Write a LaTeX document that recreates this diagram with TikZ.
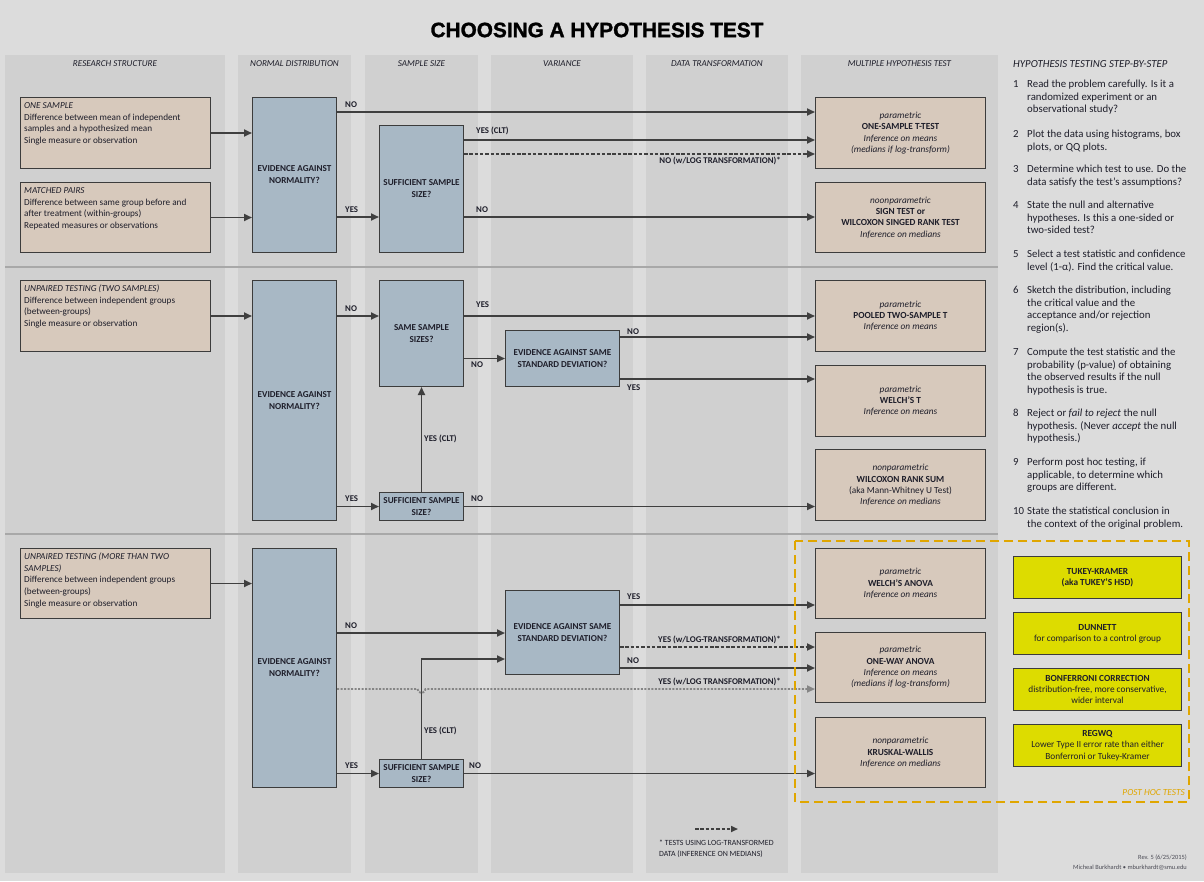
\documentclass[tikz,border=0pt]{standalone}
\usepackage{fontspec}
\setmainfont{Carlito}
\newfontfamily\titlefont[BoldFeatures={FakeBold=1.4}]{Liberation Sans}
\usetikzlibrary{arrows.meta,calc}
\newcommand\fsz[2]{\fontsize{#1}{#2}\selectfont}
\definecolor{bgc}{HTML}{DCDCDC}
\definecolor{panelc}{HTML}{D0D0D0}
\definecolor{sepc}{HTML}{A8A8A8}
\definecolor{tanc}{HTML}{D7C9BC}
\definecolor{bluec}{HTML}{A8B8C5}
\definecolor{yelc}{HTML}{DDDC00}
\definecolor{bordc}{HTML}{3C3C3C}
\definecolor{arrc}{HTML}{3F3F3F}
\definecolor{dotc}{HTML}{858585}
\definecolor{orgc}{HTML}{E0A600}
\definecolor{txtc}{HTML}{1E1E2A}
\begin{document}
\begin{tikzpicture}[x=1pt,y=-1pt,
  panel/.style={fill=panelc},
  tanbox/.style={draw=bordc, fill=tanc, line width=1pt, inner sep=0pt},
  bluebox/.style={draw=bordc, fill=bluec, line width=1pt, inner sep=0pt, align=center, text=txtc, font=\bfseries\fsz{9.1}{12}},
  resbox/.style={draw=bordc, fill=tanc, line width=1pt, inner sep=0pt, align=center, text=txtc, font=\fsz{9.3}{11.3}},
  ybox/.style={draw=bordc, fill=yelc, line width=1pt, inner sep=0pt, align=center, text=txtc, font=\fsz{9.3}{11.3}},
  boxtext/.style={align=left, text=txtc, font=\fsz{9.2}{11.7}, inner sep=0pt, anchor=north west},
  hdr/.style={font=\itshape\fsz{9.1}{10}, text=txtc, inner sep=0pt},
  lbl/.style={font=\bfseries\fsz{8.8}{10}, text=txtc, inner sep=0pt, anchor=west},
  lble/.style={lbl, anchor=east},
  arr/.style={draw=arrc, line width=1.9pt, -{Triangle[length=8pt,width=7pt]}},
  darr/.style={arr, dash pattern=on 3.5pt off 1.8pt},
  dotarr/.style={arr, draw=dotc, dash pattern=on 2pt off 1.5pt},
  stepnum/.style={align=left, text=txtc, font=\fsz{10.8}{12.6}, inner sep=0pt, anchor=north west},
  steptxt/.style={align=left, text=txtc, font=\fsz{10.8}{12.6}, inner sep=0pt, anchor=north west}
]
% background and bounding box
\path[fill=bgc, use as bounding box] (0,0) rectangle (1204,881);
% panels
\fill[panel] (5,55) rectangle (225,873);
\fill[panel] (238,55) rectangle (351,873);
\fill[panel] (365,55) rectangle (478,873);
\fill[panel] (491,55) rectangle (633,873);
\fill[panel] (646,55) rectangle (788,873);
\fill[panel] (801,55) rectangle (998,873);
% separators
\draw[sepc, line width=2.5pt] (5,267) -- (998,267);
\draw[sepc, line width=2.5pt] (5,534) -- (998,534);
% title
\node[font=\titlefont\bfseries\fsz{20.8}{24}, text=black] (title) at (597,30) {CHOOSING A HYPOTHESIS TEST};
% headers
\node[hdr] (h1) at (115,64) {RESEARCH STRUCTURE};
\node[hdr] (h2) at (294.5,64) {NORMAL DISTRIBUTION};
\node[hdr] (h3) at (421.5,64) {SAMPLE SIZE};
\node[hdr] (h4) at (562,64) {VARIANCE};
\node[hdr] (h5) at (717,64) {DATA TRANSFORMATION};
\node[hdr] (h6) at (899.5,64) {MULTIPLE HYPOTHESIS TEST};
\node[hdr, font=\itshape\fsz{10.8}{12}, anchor=west] (h7) at (1013,64) {HYPOTHESIS TESTING STEP-BY-STEP};

% ===== Section 1 =====
\node[tanbox, minimum width=190pt, minimum height=71pt, anchor=north west] (os) at (20,97) {};
\node[boxtext] (ost) at ($(os.north west)+(4,3)$) {\strut\textit{ONE SAMPLE}\\Difference between mean of independent\\samples and a hypothesized mean\\Single measure or observation};
\node[tanbox, minimum width=190pt, minimum height=70pt, anchor=north west] (mp) at (20,182) {};
\node[boxtext] (mpt) at ($(mp.north west)+(4,3)$) {\strut\textit{MATCHED PAIRS}\\Difference between same group before and\\after treatment (within-groups)\\Repeated measures or observations};
\node[bluebox, minimum width=84pt, minimum height=155pt, anchor=north west] (n1) at (252,97) {EVIDENCE AGAINST\\NORMALITY?};
\node[bluebox, minimum width=84pt, minimum height=127pt, anchor=north west] (s1) at (379,125) {SUFFICIENT SAMPLE\\SIZE?};
\node[resbox, minimum width=170pt, minimum height=71pt, anchor=north west] (r1) at (815,97) {\textit{parametric}\\\textbf{ONE-SAMPLE T-TEST}\\\textit{Inference on means}\\\textit{(medians if log-transform)}};
\node[resbox, minimum width=170pt, minimum height=70pt, anchor=north west] (r2) at (815,182) {\textit{noonparametric}\\\textbf{SIGN TEST or}\\\textbf{WILCOXON SINGED RANK TEST}\\\textit{Inference on medians}};

\draw[arr] (os.east) -- (n1.west |- os.east);
\draw[arr] (mp.east) -- (n1.west |- mp.east);
\draw[arr] (n1.east |- 0,112) -- (r1.west |- 0,112);
\draw[arr] (n1.east |- 0,217) -- (s1.west |- 0,217);
\draw[arr] (s1.east |- 0,140) -- (r1.west |- 0,140);
\draw[darr] (s1.east |- 0,154) -- (r1.west |- 0,154);
\draw[arr] (s1.east |- 0,217) -- (r2.west |- 0,217);
\node[lbl] (l1) at (345,105) {NO};
\node[lbl] (l2) at (345,210) {YES};
\node[lbl] (l3) at (476,131) {YES (CLT)};
\node[lbl] (l4) at (476,210) {NO};
\node[lble] (l5) at (781,161) {NO (w/LOG TRANSFORMATION)*};

% ===== Section 2 =====
\node[tanbox, minimum width=190pt, minimum height=71pt, anchor=north west] (ut) at (20,280) {};
\node[boxtext] (utt) at ($(ut.north west)+(4,3)$) {\strut\textit{UNPAIRED TESTING (TWO SAMPLES)}\\Difference between independent groups\\(between-groups)\\Single measure or observation};
\node[bluebox, minimum width=84pt, minimum height=240pt, anchor=north west] (n2) at (252,280) {EVIDENCE AGAINST\\NORMALITY?};
\node[bluebox, minimum width=84pt, minimum height=106pt, anchor=north west] (ss) at (379,280) {SAME SAMPLE\\SIZES?};
\node[bluebox, minimum width=114pt, minimum height=56pt, anchor=north west] (sd2) at (505,330) {EVIDENCE AGAINST SAME\\STANDARD DEVIATION?};
\node[bluebox, minimum width=84pt, minimum height=28pt, anchor=north west] (s2) at (379,492) {SUFFICIENT SAMPLE\\SIZE?};
\node[resbox, minimum width=170pt, minimum height=71pt, anchor=north west] (r3) at (815,280) {\textit{parametric}\\\textbf{POOLED TWO-SAMPLE T}\\\textit{Inference on means}};
\node[resbox, minimum width=170pt, minimum height=71pt, anchor=north west] (r4) at (815,365) {\textit{parametric}\\\textbf{WELCH'S T}\\\textit{Inference on means}};
\node[resbox, minimum width=170pt, minimum height=71pt, anchor=north west] (r5) at (815,449) {\textit{nonparametric}\\\textbf{WILCOXON RANK SUM}\\(aka Mann-Whitney U Test)\\\textit{Inference on medians}};

\draw[arr] (ut.east) -- (n2.west |- ut.east);
\draw[arr] (n2.east |- 0,316) -- (ss.west |- 0,316);
\draw[arr] (n2.east |- s2.west) -- (s2.west);
\draw[arr] (s2.north) -- (ss.south);
\draw[arr] (ss.east |- 0,316) -- (r3.west |- 0,316);
\draw[arr] (ss.east |- sd2.west) -- (sd2.west);
\draw[arr] (sd2.east |- 0,337) -- (r3.west |- 0,337);
\draw[arr] (sd2.east |- 0,379) -- (r4.west |- 0,379);
\draw[arr] (s2.east) -- (r5.west |- s2.east);
\node[lbl] (l6) at (345,309) {NO};
\node[lbl] (l7) at (345,499) {YES};
\node[lbl] (l8) at (424,439) {YES (CLT)};
\node[lbl] (l9) at (476,305) {YES};
\node[lbl] (l10) at (471,365) {NO};
\node[lbl] (l11) at (627,332) {NO};
\node[lbl] (l12) at (627,388) {YES};
\node[lbl] (l13) at (471,499) {NO};

% ===== Section 3 =====
\node[tanbox, minimum width=190pt, minimum height=70pt, anchor=north west] (u3) at (20,548) {};
\node[boxtext] (u3t) at ($(u3.north west)+(4,3)$) {\strut\textit{UNPAIRED TESTING (MORE THAN TWO}\\\textit{SAMPLES)}\\Difference between independent groups\\(between-groups)\\Single measure or observation};
\node[bluebox, minimum width=84pt, minimum height=239pt, anchor=north west] (n3) at (252,548) {EVIDENCE AGAINST\\NORMALITY?};
\node[bluebox, minimum width=114pt, minimum height=84pt, anchor=north west] (sd3) at (505,590) {EVIDENCE AGAINST SAME\\STANDARD DEVIATION?};
\node[bluebox, minimum width=84pt, minimum height=28pt, anchor=north west] (s3) at (379,759) {SUFFICIENT SAMPLE\\SIZE?};
\node[resbox, minimum width=170pt, minimum height=70pt, anchor=north west] (r6) at (815,548) {\textit{parametric}\\\textbf{WELCH'S ANOVA}\\\textit{Inference on means}};
\node[resbox, minimum width=170pt, minimum height=70pt, anchor=north west] (r7) at (815,632) {\textit{parametric}\\\textbf{ONE-WAY ANOVA}\\\textit{Inference on means}\\\textit{(medians if log-transform)}};
\node[resbox, minimum width=170pt, minimum height=70pt, anchor=north west] (r8) at (815,717) {\textit{nonparametric}\\\textbf{KRUSKAL-WALLIS}\\\textit{Inference on medians}};

\draw[arr] (u3.east) -- (n3.west |- u3.east);
\draw[arr] (n3.east |- 0,633) -- (sd3.west |- 0,633);
\draw[arr] (n3.east |- s3.west) -- (s3.west);
\draw[arr] (s3.north) -- (s3.north |- 0,659) -- (sd3.west |- 0,659);
\draw[dotarr] (n3.east |- 0,689) -- ($(s3.north |- 0,689)+(-4,0)$) arc[start angle=180, end angle=360, radius=4pt] -- (r7.west |- 0,689);
\draw[arr] (sd3.east |- 0,605) -- (r6.west |- 0,605);
\draw[darr] (sd3.east |- 0,647) -- (r7.west |- 0,647);
\draw[arr] (sd3.east |- 0,668) -- (r7.west |- 0,668);
\draw[arr] (s3.east) -- (r8.west |- s3.east);
\node[lbl] (l14) at (345,626) {NO};
\node[lbl] (l15) at (345,766) {YES};
\node[lbl] (l16) at (424,731) {YES (CLT)};
\node[lbl] (l17) at (469,766) {NO};
\node[lbl] (l18) at (627,597) {YES};
\node[lble] (l19) at (781,640) {YES (w/LOG-TRANSFORMATION)*};
\node[lbl] (l20) at (627,661) {NO};
\node[lble] (l21) at (781,682) {YES (w/LOG TRANSFORMATION)*};

% post hoc
\draw[orgc, line width=2.2pt, dash pattern=on 9pt off 5pt] (795,541) rectangle (1189,802);
\node[ybox, minimum width=168pt, minimum height=42pt, anchor=north west] (y1) at (1013,556) {\textbf{TUKEY-KRAMER}\\\textbf{(aka TUKEY'S HSD)}};
\node[ybox, minimum width=168pt, minimum height=42pt, anchor=north west] (y2) at (1013,612) {\textbf{DUNNETT}\\for comparison to a control group};
\node[ybox, minimum width=168pt, minimum height=42pt, anchor=north west] (y3) at (1013,668) {\textbf{BONFERRONI CORRECTION}\\distribution-free, more conservative,\\wider interval};
\node[ybox, minimum width=168pt, minimum height=42pt, anchor=north west] (y4) at (1013,724) {\textbf{REGWQ}\\Lower Type II error rate than either\\Bonferroni or Tukey-Kramer};
\node[font=\itshape\fsz{9.3}{10}, text=orgc, inner sep=0pt, anchor=east] (ph) at (1185,793) {POST HOC TESTS};

% legend
\coordinate (lg1) at (695,829);
\coordinate (lg2) at (738,829);
\draw[darr, line width=1.6pt, -{Triangle[length=7pt,width=6pt]}] (lg1) -- (lg2);
\node[boxtext, font=\fsz{7.9}{10.5}] (lgt) at (659,838) {\strut * TESTS USING LOG-TRANSFORMED\\DATA (INFERENCE ON MEDIANS)};

% footer
\node[font=\fsz{6.4}{7}, text=txtc!80, inner sep=0pt, anchor=east] (f1) at (1187,858) {Rev. 5 (6/25/2015)};
\node[font=\fsz{6.4}{7}, text=txtc!80, inner sep=0pt, anchor=east] (f2) at (1187,868) {Micheal Burkhardt \textbullet{} mburkhardt@smu.edu};

% steps
\node[stepnum] (n01) at (1013,80) {1};
\node[steptxt] (t01) at (1027,80) {Read the problem carefully. Is it a\\randomized experiment or an\\observational study?};
\node[stepnum] (n02) at (1013,130) {2};
\node[steptxt] (t02) at (1027,130) {Plot the data using histograms, box\\plots, or QQ plots.};
\node[stepnum] (n03) at (1013,165) {3};
\node[steptxt] (t03) at (1027,165) {Determine which test to use. Do the\\data satisfy the test's assumptions?};
\node[stepnum] (n04) at (1013,201) {4};
\node[steptxt] (t04) at (1027,201) {State the null and alternative\\hypotheses. Is this a one-sided or\\two-sided test?};
\node[stepnum] (n05) at (1013,250) {5};
\node[steptxt] (t05) at (1027,250) {Select a test statistic and confidence\\level (1-α). Find the critical value.};
\node[stepnum] (n06) at (1013,286) {6};
\node[steptxt] (t06) at (1027,286) {Sketch the distribution, including\\the critical value and the\\acceptance and/or rejection\\region(s).};
\node[stepnum] (n07) at (1013,348) {7};
\node[steptxt] (t07) at (1027,348) {Compute the test statistic and the\\probability (p-value) of obtaining\\the observed results if the null\\hypothesis is true.};
\node[stepnum] (n08) at (1013,409) {8};
\node[steptxt] (t08) at (1027,409) {Reject or \textit{fail to reject} the null\\hypothesis. (Never \textit{accept} the null\\hypothesis.)};
\node[stepnum] (n09) at (1013,458) {9};
\node[steptxt] (t09) at (1027,458) {Perform post hoc testing, if\\applicable, to determine which\\groups are different.};
\node[stepnum] (n10) at (1013,507) {10};
\node[steptxt] (t10) at (1027,507) {State the statistical conclusion in\\the context of the original problem.};
\end{tikzpicture}
\end{document}
